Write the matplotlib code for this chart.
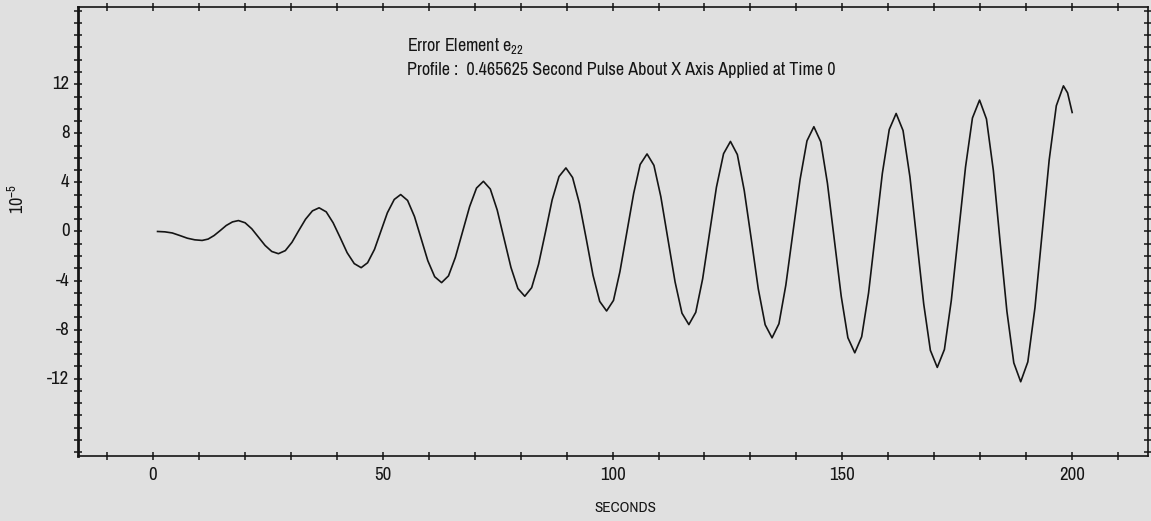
import matplotlib
matplotlib.use('Agg')
import matplotlib.pyplot as plt
from matplotlib.ticker import MultipleLocator

# e22 error element (units of 1e-5)
t_sec = [1.0, 2.6, 4.2, 5.85, 7.5, 9.1, 10.7, 12.0, 13.3, 14.65, 15.95, 17.3,
         18.6, 20.05, 21.5, 22.95, 24.4, 25.85, 27.3, 28.8, 30.25, 31.7, 33.2, 34.7,
         36.15, 37.7, 39.2, 40.75, 42.25, 43.8, 45.3, 46.7, 48.2, 49.6, 51.0, 52.5,
         53.9, 55.4, 56.9, 58.35, 59.8, 61.3, 62.8, 64.3, 65.8, 67.35, 68.9, 70.4,
         71.9, 73.4, 74.9, 76.4, 77.9, 79.4, 80.9, 82.4, 83.9, 85.4, 86.85, 88.35,
         89.85, 91.3, 92.8, 94.3, 95.75, 97.2, 98.7, 100.2, 101.6, 103.1, 104.6, 106.0,
         107.5, 109.0, 110.5, 112.05, 113.6, 115.1, 116.6, 118.1, 119.6, 121.1, 122.6, 124.15,
         125.65, 127.15, 128.65, 130.2, 131.7, 133.2, 134.7, 136.2, 137.7, 139.25, 140.8, 142.3,
         143.8, 145.3, 146.75, 148.25, 149.75, 151.2, 152.7, 154.2, 155.7, 157.2, 158.7, 160.2,
         161.7, 163.2, 164.7, 166.2, 167.7, 169.15, 170.65, 172.2, 173.7, 175.25, 176.8, 178.3,
         179.85, 181.35, 182.85, 184.3, 185.8, 187.3, 188.8, 190.35, 191.9, 193.45, 195.0, 196.55,
         198.1, 199.0, 200.0]
e22 = [0.00, -0.03, -0.12, -0.33, -0.55, -0.68, -0.73, -0.62, -0.33, 0.08, 0.49, 0.78,
       0.89, 0.71, 0.22, -0.46, -1.14, -1.63, -1.81, -1.56, -0.88, 0.06, 1.00, 1.68,
       1.93, 1.60, 0.71, -0.51, -1.73, -2.62, -2.95, -2.55, -1.46, 0.03, 1.52, 2.61,
       3.01, 2.53, 1.22, -0.58, -2.38, -3.69, -4.17, -3.62, -2.11, -0.04, 2.03, 3.54,
       4.09, 3.46, 1.75, -0.60, -2.94, -4.65, -5.28, -4.58, -2.67, -0.05, 2.57, 4.48,
       5.18, 4.40, 2.27, -0.65, -3.57, -5.70, -6.48, -5.62, -3.28, -0.08, 3.12, 5.46,
       6.32, 5.39, 2.84, -0.64, -4.11, -6.66, -7.59, -6.59, -3.86, -0.13, 3.61, 6.34,
       7.34, 6.27, 3.34, -0.67, -4.67, -7.60, -8.67, -7.52, -4.37, -0.07, 4.24, 7.39,
       8.54, 7.31, 3.93, -0.68, -5.28, -8.66, -9.89, -8.58, -5.01, -0.14, 4.74, 8.31,
       9.62, 8.23, 4.45, -0.73, -5.91, -9.69, -11.08, -9.62, -5.63, -0.19, 5.26, 9.25,
       10.71, 9.17, 4.97, -0.77, -6.51, -10.71, -12.25, -10.63, -6.22, -0.19, 5.84, 10.25,
       11.87, 11.30, 9.70]

x_labels = [0, 50, 100, 150, 200]
y_labels = [-12, -8, -4, 0, 4, 8, 12]

font = 'Archivo Narrow'
plt.rcParams['font.family'] = [font, 'DejaVu Sans']
plt.rcParams['mathtext.fontset'] = 'custom'
plt.rcParams['mathtext.rm'] = font
bg = '#e0e0e0'
ink = '#151515'

fig = plt.figure(figsize=(11.51, 5.21), dpi=100, facecolor=bg)
ax = fig.add_axes([0.0678, 0.1248, 0.9296, 0.8618], facecolor=bg)

ax.plot(t_sec, e22, color=ink, lw=1.2)

ax.set_xlim(-16.3, 216.5)
ax.set_ylim(-18.3, 18.3)

ax.xaxis.set_major_locator(MultipleLocator(10))
ax.yaxis.set_major_locator(MultipleLocator(1))
ax.set_xticklabels([])
ax.set_yticklabels([])
ax.tick_params(direction='inout', length=6, width=1.1, color=ink,
               top=True, right=True)
for s in ax.spines.values():
    s.set_color(ink)
    s.set_linewidth(1.2)
ax.spines['left'].set_linewidth(2.0)

# tick labels only every 50 s / 4 units, like the original
for v in x_labels:
    ax.text(v, -0.024, str(v), transform=ax.get_xaxis_transform(),
            ha='center', va='top', fontsize=13.5, color=ink)
for v in y_labels:
    ax.text(-0.008, v, str(v), transform=ax.get_yaxis_transform(),
            ha='right', va='center', fontsize=13.5, color=ink)

ax.text(0.307, 0.912, r'Error Element $\mathregular{e_{22}}$', transform=ax.transAxes,
        fontsize=13, color=ink, va='center')
ax.text(0.307, 0.86, 'Profile :  0.465625 Second Pulse About X Axis Applied at Time 0',
        transform=ax.transAxes, fontsize=13, color=ink, va='center')

fig.text(625 / 1151, 1 - 508 / 521, 'SECONDS', ha='center', va='center',
         fontsize=11, color=ink)
fig.text(17 / 1151, 1 - 199 / 521, r'$\mathregular{10^{-5}}$', rotation=90,
         ha='center', va='center', fontsize=13, color=ink)

fig.savefig('out.png', dpi=100, facecolor=bg)
